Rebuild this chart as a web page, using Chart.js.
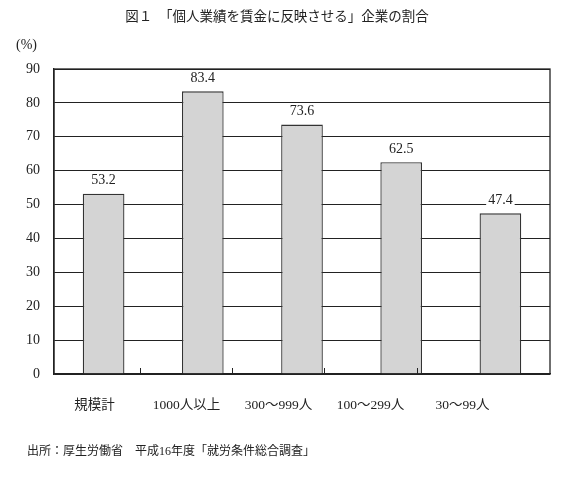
<!DOCTYPE html>
<html>
<head>
<meta charset="utf-8">
<script src="https://cdn.jsdelivr.net/npm/chart.js@4.4.0/dist/chart.umd.min.js"></script>
<style>
  html, body { margin: 0; padding: 0; background: #fff; }
  #wrap { width: 570px; height: 486px; }
</style>
</head>
<body>
<div id="wrap"><canvas id="myChart" width="570" height="486"></canvas></div>
<script>
const categories = ['規模計', '1000人以上', '300～999人', '100～299人', '30～99人'];
const values = [53.2, 83.4, 73.6, 62.5, 47.4];
const yTicks = [0, 10, 20, 30, 40, 50, 60, 70, 80, 90];

const titleText = '図１　「個人業績を賃金に反映させる」企業の割合';
const unitText = '(%)';
const sourceText = '出所：厚生労働省　平成16年度「就労条件総合調査」';

const FONT = "'Liberation Serif', 'Noto Sans CJK JP', serif";

// extra text, value labels, frame and short ticks on the x axis
const decorations = {
    id: 'decorations',
    afterDraw(chart) {
        const c = chart.ctx;
        const area = chart.chartArea;
        const xl = chart.scales.xl;
        c.save();

        // frame
        c.strokeStyle = '#222';
        c.lineWidth = 1.3;
        c.strokeRect(area.left, area.top, area.right - area.left, area.bottom - area.top);

        // short ticks between the labels
        c.lineWidth = 1;
        for (let i = 0; i < categories.length - 1; i++) {
            const px = Math.round(xl.getPixelForValue(i + 0.5)) + 0.5;
            c.beginPath();
            c.moveTo(px, area.bottom);
            c.lineTo(px, area.bottom - 6);
            c.stroke();
        }

        // value labels on a white patch
        c.font = '14px ' + FONT;
        c.textAlign = 'center';
        c.textBaseline = 'bottom';
        chart.getDatasetMeta(0).data.forEach((bar, i) => {
            const txt = values[i].toFixed(1);
            const w = c.measureText(txt).width;
            const yb = bar.y - 6;
            c.fillStyle = '#fff';
            c.fillRect(bar.x - w / 2 - 2, yb - 13, w + 4, 14);
            c.fillStyle = '#222';
            c.fillText(txt, bar.x, yb);
        });

        // title
        c.font = '13.5px ' + FONT;
        c.textBaseline = 'middle';
        c.fillText(titleText, 277, 17);

        // unit
        c.font = '14px ' + FONT;
        c.textAlign = 'left';
        c.fillText(unitText, 16, 45);

        // source
        c.font = '12px ' + FONT;
        c.fillText(sourceText, 27, 452);

        c.restore();
    }
};

const ctx = document.getElementById('myChart').getContext('2d');

const myChart = new Chart(ctx, {
    type: 'bar',
    plugins: [decorations],
    data: {
        labels: categories,
        datasets: [{
            data: values,
            xAxisID: 'x',
            backgroundColor: '#d4d4d4',
            borderColor: '#333',
            borderWidth: 1.3,
            categoryPercentage: 1,
            barPercentage: 0.42,
        }]
    },
    options: {
        responsive: false,
        animation: false,
        layout: {
            padding: { left: 0, right: 20, top: 69, bottom: 0 }
        },
        plugins: {
            legend: { display: false },
            tooltip: { enabled: false },
        },
        scales: {
            x: {
                display: false,
            },
            // label axis: labels sit a little left of the bars, as in the print
            xl: {
                type: 'linear',
                position: 'bottom',
                offset: false,
                bounds: 'data',
                min: -0.44,
                max: 4.951,
                afterBuildTicks(scale) {
                    scale.ticks = categories.map((c, i) => ({ value: i }));
                    scale.min = -0.44;
                    scale.max = 4.951;
                },
                grid: { display: false, offset: false },
                border: { display: true, color: '#222', width: 1.3 },
                ticks: {
                    color: '#222',
                    padding: 15,
                    font: { size: 13.5, family: FONT },
                    callback: (v) => categories[v],
                },
                afterFit(scale) { scale.height = 112; }
            },
            y: {
                min: 0,
                max: 90,
                afterBuildTicks(scale) {
                    scale.ticks = yTicks.map(v => ({ value: v }));
                },
                grid: { color: '#222', lineWidth: 1, drawTicks: false },
                border: { display: true, color: '#222', width: 1.3 },
                ticks: {
                    color: '#222',
                    padding: 14,
                    font: { size: 14, family: FONT },
                },
                afterFit(scale) { scale.width = 54; }
            }
        }
    }
});
</script>
</body>
</html>
